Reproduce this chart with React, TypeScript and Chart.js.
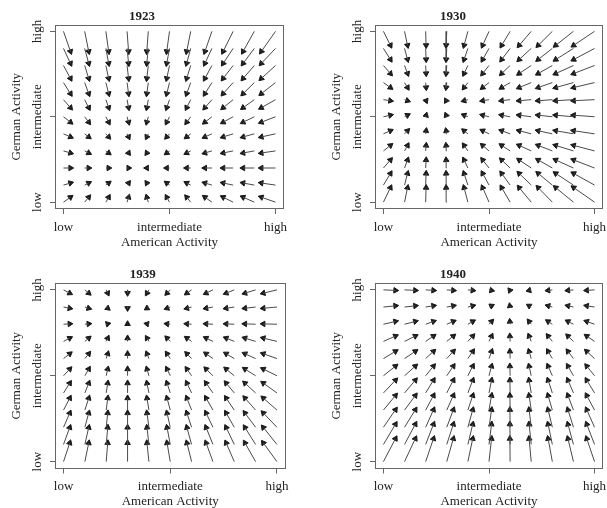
import React, { useEffect, useRef } from 'react';
import { Chart, registerables } from 'chart.js';

Chart.register(...registerables);

// ---- data ----
const levels = [0, 0.1, 0.2, 0.3, 0.4, 0.5, 0.6, 0.7, 0.8, 0.9, 1];
const tickValues = [0, 0.5, 1];
const tickLabels = ['low', 'intermediate', 'high'];
const xTitle = 'American Activity';
const yTitle = 'German Activity';
const years = ['1923', '1930', '1939', '1940'];

// arrow-head positions (tails sit on the level grid): column-wise x, row-wise y (bottom -> top)
const headX1923 = [0.033, 0.119, 0.213, 0.307, 0.393, 0.487, 0.581, 0.667, 0.753, 0.847, 0.933];
const headY1923 = [0.029, 0.112, 0.2, 0.288, 0.382, 0.468, 0.553, 0.635, 0.724, 0.812, 0.882];
const headX1930 = [0.033, 0.114, 0.202, 0.297, 0.382, 0.47, 0.56, 0.643, 0.733, 0.816, 0.901];
const headY1930 = [0.085, 0.168, 0.247, 0.332, 0.418, 0.509, 0.594, 0.671, 0.753, 0.835, 0.918];
const headX1939 = [0.029, 0.118, 0.207, 0.3, 0.391, 0.485, 0.578, 0.668, 0.762, 0.85, 0.936];
const headY1939 = [0.109, 0.199, 0.283, 0.37, 0.457, 0.539, 0.628, 0.719, 0.802, 0.893, 0.981];
const headX1940 = [0.057, 0.151, 0.237, 0.331, 0.423, 0.512, 0.599, 0.69, 0.78, 0.874, 0.963];
const headY1940 = [0.134, 0.218, 0.302, 0.385, 0.474, 0.556, 0.642, 0.731, 0.816, 0.907, 0.997];

// ---- layout / style ----
const FONT = '"Liberation Serif", "DejaVu Serif", serif';
const TEXT = '#222';
const FRAME = '#666';
const LINE = '#4a4a4a';
const HEAD = '#1a1a1a';

const panels = [
  { year: years[0], hx: headX1923, hy: headY1923, c: { left: 0, top: 0, width: 303, height: 254 }, box: { l: 55, t: 24.5, r: 284, b: 209 } },
  { year: years[1], hx: headX1930, hy: headY1930, c: { left: 303, top: 0, width: 320, height: 254 }, box: { l: 375, t: 24.5, r: 603, b: 209 } },
  { year: years[2], hx: headX1939, hy: headY1939, c: { left: 0, top: 259, width: 303, height: 249 }, box: { l: 55, t: 283, r: 285.5, b: 468.5 } },
  { year: years[3], hx: headX1940, hy: headY1940, c: { left: 303, top: 259, width: 320, height: 249 }, box: { l: 375, t: 283, r: 603, b: 468.5 } },
];

const framePlugin = {
  id: 'frameAndYLabels',
  afterDraw(chart: any) {
    const { ctx, chartArea, scales } = chart;
    ctx.save();
    ctx.strokeStyle = FRAME;
    ctx.lineWidth = 1;
    const l = Math.round(chartArea.left) + 0.5;
    const t = Math.round(chartArea.top) + 0.5;
    const r = Math.round(chartArea.right) - 0.5;
    const b = Math.round(chartArea.bottom) - 0.5;
    ctx.strokeRect(l, t, r - l, b - t);
    ctx.font = `13px ${FONT}`;
    ctx.fillStyle = TEXT;
    ctx.textAlign = 'center';
    ctx.textBaseline = 'middle';
    tickValues.forEach((v, k) => {
      const y = scales.y.getPixelForValue(v);
      ctx.save();
      ctx.translate(chartArea.left - 17, y);
      ctx.rotate(-Math.PI / 2);
      ctx.fillText(tickLabels[k], 0, 0);
      ctx.restore();
    });
    ctx.restore();
  },
};

function Panel({ p }: { p: any }) {
  const ref = useRef<HTMLCanvasElement>(null);
  useEffect(() => {
    const { c, box } = p;
    const chartL = box.l - c.left;
    const chartT = box.t - c.top;
    const chartR = box.r - c.left;
    const chartB = box.b - c.top;
    const xAxisH = 42;
    const lh = 13 * 1.2;
    const titleCenter = chartT - 8.3;
    const titlePadTop = titleCenter - lh / 2;
    const titlePadBottom = chartT - lh - titlePadTop;

    const segs: any[] = [];
    const heads: any[] = [];
    levels.forEach((ty, j) => {
      levels.forEach((tx, i) => {
        const hx = p.hx[i];
        const hy = p.hy[j];
        segs.push({ x: tx, y: ty }, { x: hx, y: hy }, { x: NaN, y: NaN });
        heads.push({ x: hx, y: hy, tx, ty });
      });
    });

    const font = { family: FONT, size: 13 };
    const chart = new Chart(ref.current as HTMLCanvasElement, {
      type: 'scatter',
      data: {
        datasets: [
          {
            data: segs,
            showLine: true,
            spanGaps: false,
            pointRadius: 0,
            borderColor: LINE,
            borderWidth: 1,
          } as any,
          {
            data: heads,
            pointStyle: 'triangle',
            pointRadius: 3.2,
            pointBorderWidth: 1,
            backgroundColor: HEAD,
            borderColor: HEAD,
            pointRotation: (ctx: any) => {
              const raw = ctx.raw;
              if (!raw) return 0;
              const xs = ctx.chart.scales.x;
              const ys = ctx.chart.scales.y;
              const dx = xs.getPixelForValue(raw.x) - xs.getPixelForValue(raw.tx);
              const dy = ys.getPixelForValue(raw.y) - ys.getPixelForValue(raw.ty);
              if (Math.abs(dx) + Math.abs(dy) < 0.01) return 0;
              return (Math.atan2(dx, -dy) * 180) / Math.PI;
            },
          } as any,
        ],
      },
      options: {
        responsive: false,
        animation: false,
        devicePixelRatio: 1,
        events: [],
        layout: {
          padding: { left: 0, top: 0, right: c.width - chartR, bottom: c.height - chartB - xAxisH },
        },
        plugins: {
          legend: { display: false },
          tooltip: { enabled: false },
          title: {
            display: true,
            text: p.year,
            color: TEXT,
            font: { family: FONT, size: 13, weight: 'bold' },
            padding: { top: titlePadTop, bottom: titlePadBottom },
          },
        },
        scales: {
          x: {
            type: 'linear',
            min: -0.04,
            max: 1.04,
            afterBuildTicks: (s: any) => {
              s.ticks = tickValues.map((v) => ({ value: v }));
            },
            afterFit: (s: any) => {
              s.height = xAxisH;
            },
            ticks: {
              autoSkip: false,
              maxRotation: 0,
              minRotation: 0,
              padding: 5.7,
              color: TEXT,
              font,
              callback: (_v: any, i: number) => tickLabels[i],
            },
            grid: { drawOnChartArea: false, drawTicks: true, tickLength: 5, color: FRAME },
            border: { display: false },
            title: { display: true, text: xTitle, color: TEXT, font, padding: { top: 0, bottom: 0.7 } },
          },
          y: {
            type: 'linear',
            min: -0.04,
            max: 1.04,
            afterBuildTicks: (s: any) => {
              s.ticks = tickValues.map((v) => ({ value: v }));
            },
            afterFit: (s: any) => {
              s.width = chartL;
            },
            ticks: { display: false },
            grid: { drawOnChartArea: false, drawTicks: true, tickLength: 5, color: FRAME },
            border: { display: false },
            title: {
              display: true,
              text: yTitle,
              color: TEXT,
              font,
              padding: { top: chartL - 38 - lh / 2, bottom: 0 },
            },
          },
        },
      } as any,
      plugins: [framePlugin],
    });
    return () => chart.destroy();
  }, [p]);

  const { c } = p;
  return (
    <canvas
      ref={ref}
      width={c.width}
      height={c.height}
      style={{ position: 'absolute', left: c.left, top: c.top, width: c.width, height: c.height }}
    />
  );
}

export default function App() {
  return (
    <div
      style={{
        position: 'fixed',
        left: 0,
        top: 0,
        width: 607,
        height: 508,
        overflow: 'hidden',
        background: '#fff',
      }}
    >
      {panels.map((p) => (
        <Panel key={p.year} p={p} />
      ))}
    </div>
  );
}
